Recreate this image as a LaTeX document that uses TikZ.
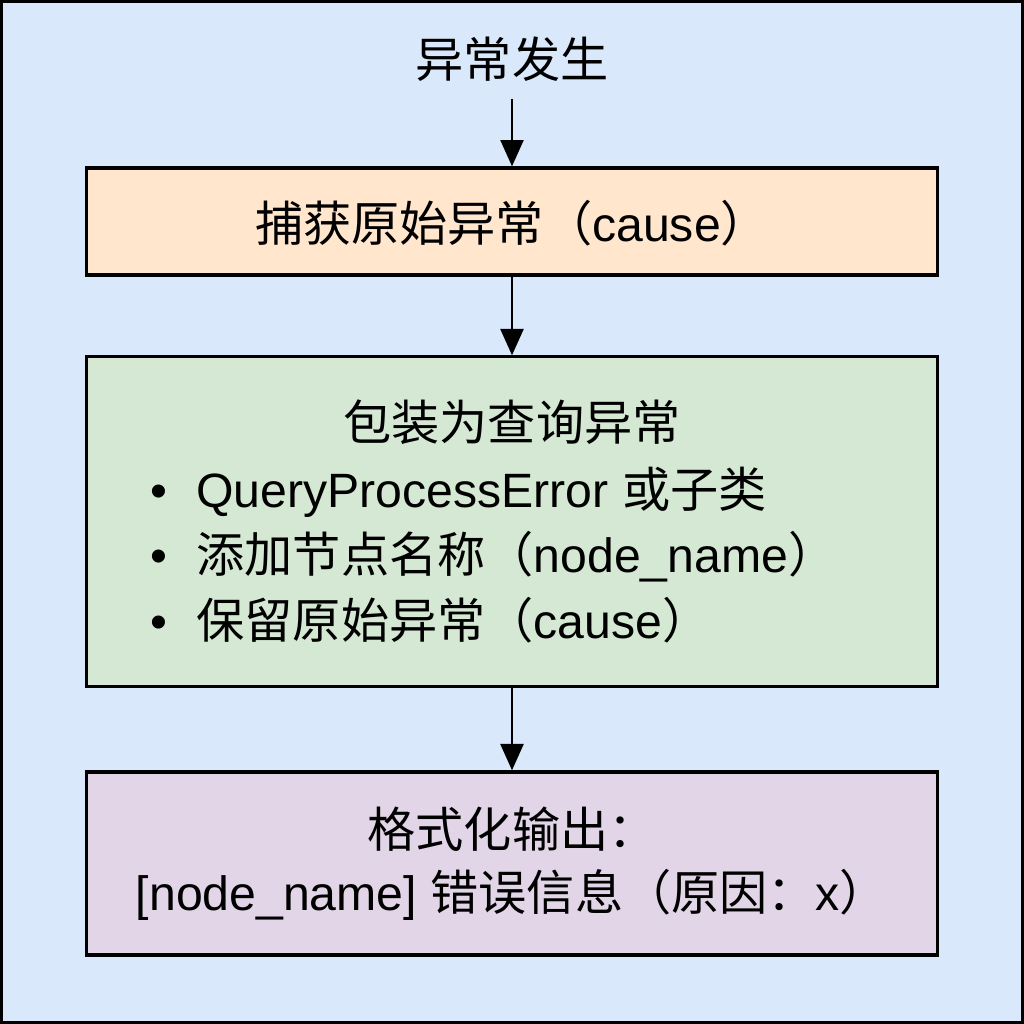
\documentclass[tikz,border=0pt]{standalone}
\usepackage{fontspec}
\setmainfont{Liberation Sans}
\newfontfamily\cjk{Noto Sans CJK SC}
\usetikzlibrary{arrows.meta}
\definecolor{bgblue}{HTML}{DAE8FC}
\definecolor{catchfill}{HTML}{FFE6CC}
\definecolor{wrapfill}{HTML}{D5E8D4}
\definecolor{outfill}{HTML}{E1D5E7}
\tikzset{>/.tip={Triangle[length=7.5pt,width=6.5pt]},
  txt/.style={font=\fontsize{13.7}{18.8}\selectfont, inner sep=0pt, text height=0.88em, text depth=0.12em},
  stepbox/.style={draw=black, line width=0.9pt, minimum width=8.5cm, inner sep=0pt, txt},
  flow/.style={->, line width=0.8pt}}

\begin{document}
\begin{tikzpicture}[x=0.01cm, y=-0.01cm]
 \useasboundingbox (0,0) rectangle (1024,1024);
 \draw[fill=bgblue, line width=0.03cm] (1.5,1.5) rectangle (1022.5,1022.5);

 \node[txt, outer sep=5pt] (start) at (512,64) {\cjk 异常发生};
 \node[stepbox, fill=catchfill, minimum height=1.07cm] (catch) at (512,221.5)
   {\raisebox{-2pt}{{\cjk 捕获原始异常（}cause{\cjk ）}}};
 \node[stepbox, fill=wrapfill, minimum height=3.29cm] (wrap) at (512,521.5) {};
 \node[stepbox, fill=outfill, minimum height=1.83cm, align=center,
   font=\fontsize{13.7}{17.8}\selectfont, text height=, text depth=] (out) at (512,863.5)
   {{\cjk 格式化输出：}\\{}[node\_name] {\cjk 错误信息（原因：}x{\cjk ）}};

 % text of the wrapping step
 \node[txt] (wraphead) at (512,427) {\cjk 包装为查询异常};
 \node[txt, anchor=west] (item1) at (150,494) {•\hspace{0.6em}QueryProcessError {\cjk 或子类}};
 \node[txt, anchor=west] (item2) at (150,559) {•\hspace{0.6em}{\cjk 添加节点名称（}node\_name{\cjk ）}};
 \node[txt, anchor=west] (item3) at (150,625) {•\hspace{0.6em}{\cjk 保留原始异常（}cause{\cjk ）}};

 \path[flow] (start) edge (catch);
 \path[flow] (catch) edge (wrap);
 \path[flow] (wrap)  edge (out);
\end{tikzpicture}
\end{document}
